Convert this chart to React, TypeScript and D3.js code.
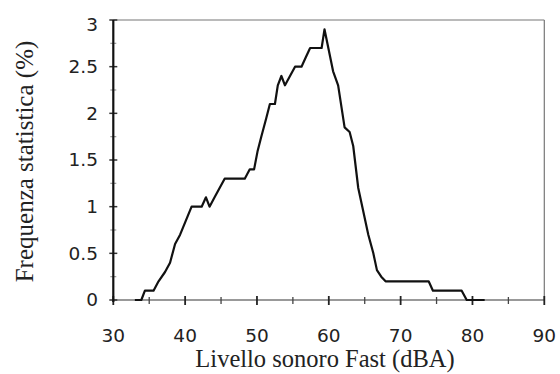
import React from "react";
import * as d3 from "d3";

const levelDbA: number[] = [33.0, 33.9, 34.4, 35.6, 36.3, 37.2, 37.9, 38.6, 39.3, 40.9, 42.3, 42.9, 43.4, 44.1, 45.5, 48.3, 49.0, 49.6, 50.1, 50.6, 51.3, 51.8, 52.5, 52.9, 53.4, 53.9, 54.6, 55.3, 56.2, 56.8, 57.4, 59.0, 59.4, 60.6, 61.3, 62.2, 62.9, 63.4, 64.1, 65.5, 66.2, 66.7, 67.3, 67.9, 73.9, 74.5, 78.5, 79.2, 81.7];
const frequency: number[] = [0, 0, 0.1, 0.1, 0.2, 0.3, 0.4, 0.6, 0.7, 1.0, 1.0, 1.1, 1.0, 1.1, 1.3, 1.3, 1.4, 1.4, 1.6, 1.75, 1.95, 2.1, 2.1, 2.3, 2.4, 2.3, 2.4, 2.5, 2.5, 2.6, 2.7, 2.7, 2.9, 2.45, 2.3, 1.85, 1.8, 1.65, 1.2, 0.7, 0.5, 0.32, 0.25, 0.2, 0.2, 0.1, 0.1, 0, 0];

const xTickLabels: number[] = [30, 40, 50, 60, 70, 80, 90];
const xMinorTicks: number[] = [35, 45, 55, 65, 75, 85];
const yTickLabels: number[] = [0, 0.5, 1, 1.5, 2, 2.5, 3];
const yMinorTicks: number[] = [0.25, 0.75, 1.25, 1.75, 2.25, 2.75];

const xTitle = "Livello sonoro Fast (dBA)";
const yTitle = "Frequenza statistica (%)";

export default function App() {
  const W = 560, H = 374;
  const left = 113.3, right = 544.3, top = 20, bottom = 300;
  const x = d3.scaleLinear().domain([30, 90]).range([left, right]);
  const y = d3.scaleLinear().domain([0, 3]).range([bottom, top]);
  const pts = levelDbA.map((v, i) => [v, frequency[i]] as [number, number]);
  const line = d3.line<[number, number]>().x(d => x(d[0])).y(d => y(d[1]));
  const tickFont = "'DejaVu Sans', Verdana, sans-serif";
  const serif = "'Liberation Serif', 'Times New Roman', serif";
  return (
    <svg width={W} height={H} style={{ position: "absolute", left: 0, top: 0, background: "#fff" }}>
      <rect x={0} y={0} width={W} height={H} fill="#fff" />
      {/* frame */}
      <line x1={left} x2={right} y1={top} y2={top} stroke="#777" strokeWidth={1.2} />
      <line x1={right} x2={right} y1={top} y2={bottom} stroke="#777" strokeWidth={1.2} />
      <line x1={left} x2={right} y1={bottom} y2={bottom} stroke="#777" strokeWidth={1.4} />
      {/* x ticks */}
      {xTickLabels.map(t => (
        <line key={"xt" + t} x1={x(t)} x2={x(t)} y1={bottom - 4} y2={bottom + 5} stroke="#222" strokeWidth={1.8} />
      ))}
      {xMinorTicks.map(t => (
        <line key={"xm" + t} x1={x(t)} x2={x(t)} y1={bottom - 3} y2={bottom + 4} stroke="#444" strokeWidth={1.3} />
      ))}
      {/* y ticks */}
      {yTickLabels.map(t => (
        <line key={"yt" + t} x1={left - 4} x2={left + 4} y1={y(t)} y2={y(t)} stroke="#333" strokeWidth={1.5} />
      ))}
      {yMinorTicks.map(t => (
        <line key={"ym" + t} x1={left - 3} x2={left + 3} y1={y(t)} y2={y(t)} stroke="#999" strokeWidth={1.2} />
      ))}
      {/* left axis */}
      <line x1={left} x2={left} y1={top} y2={bottom + 2} stroke="#111" strokeWidth={2.2} />
      {/* data line */}
      <path d={line(pts) || ""} fill="none" stroke="#111" strokeWidth={2.2} strokeLinejoin="round" />
      {/* x labels */}
      {xTickLabels.map(t => (
        <text key={"xl" + t} x={x(t)} y={342} textAnchor="middle" fontFamily={tickFont} fontSize={18.5} fill="#222">{t}</text>
      ))}
      {yTickLabels.map(t => (
        <text key={"yl" + t} x={98} y={t === 3 ? y(t) + 5 : y(t)} dy="0.35em" textAnchor="end" fontFamily={tickFont} fontSize={18.5} fill="#222">{t}</text>
      ))}
      <text x={325} y={367} textAnchor="middle" fontFamily={serif} fontSize={24.5} fill="#222">{xTitle}</text>
      <text transform="translate(33,161.5) rotate(-90)" textAnchor="middle" fontFamily={serif} fontSize={25} fill="#222">{yTitle}</text>
    </svg>
  );
}
